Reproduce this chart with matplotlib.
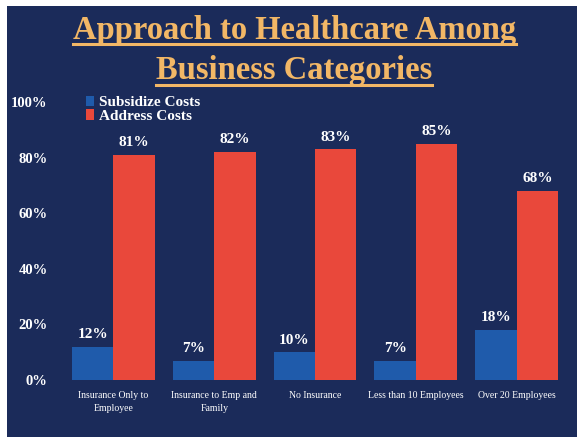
import matplotlib.pyplot as plt
from matplotlib.patches import Rectangle
from matplotlib.lines import Line2D

categories = ["Insurance Only to\nEmployee", "Insurance to Emp and\nFamily",
              "No Insurance", "Less than 10 Employees", "Over 20 Employees"]
subsidize = [12, 7, 10, 7, 18]
address = [81, 82, 83, 85, 68]
y_ticks = [0, 20, 40, 60, 80, 100]

BG = "#1b2b5a"
BLUE = "#1f5bab"
RED = "#e9483b"
GOLD = "#f2b766"
SERIF = ["Liberation Serif", "DejaVu Serif"]

fig = plt.figure(figsize=(5.77, 4.37), dpi=100, facecolor="white")
# navy slide background, leaving a thin white edge top/left like the scan
fig.patches.append(Rectangle((7 / 577, 0), 1, 1 - 6 / 437, transform=fig.transFigure,
                             facecolor=BG, edgecolor="none", zorder=-10))

ax = fig.add_axes([63 / 577, 57 / 437, 504 / 577, 278 / 437])
ax.set_facecolor("none")

x = list(range(len(categories)))
w = 0.41
ax.bar([i - w / 2 for i in x], subsidize, w, color=BLUE, label="Subsidize Costs")
ax.bar([i + w / 2 for i in x], address, w, color=RED, label="Address Costs")

for i in x:
    ax.text(i - w / 2, subsidize[i] + 2, f"{subsidize[i]}%", ha="center", va="bottom",
            color="white", fontsize=11, fontweight="bold", family=SERIF)
    ax.text(i + w / 2, address[i] + 2, f"{address[i]}%", ha="center", va="bottom",
            color="white", fontsize=11, fontweight="bold", family=SERIF)

ax.set_xlim(-0.5, 4.5)
ax.set_ylim(0, 100)
ax.set_yticks(y_ticks)
ax.set_yticklabels([f"{t}%" for t in y_ticks], color="white", fontsize=10.5,
                   fontweight="bold", family=SERIF)
ax.set_xticks(x)
ax.set_xticklabels(categories, color="white", fontsize=7, family=SERIF,
                   linespacing=1.5)
ax.tick_params(length=0)
ax.tick_params(axis="y", pad=11)
ax.tick_params(axis="x", pad=8)
for s in ax.spines.values():
    s.set_visible(False)

leg = ax.legend(loc="upper left", bbox_to_anchor=(0.03, 1.05), frameon=False,
                handlelength=0.55, handleheight=0.7, handletextpad=0.3,
                labelspacing=0.0, borderpad=0,
                prop={"family": SERIF, "weight": "bold", "size": 11})
for t in leg.get_texts():
    t.set_color("white")

# two-line underlined title
titles = [("Approach to Healthcare Among", 30 / 437), ("Business Categories", 71 / 437)]
fig.canvas.draw()
r = fig.canvas.get_renderer()
for txt, ytop in titles:
    t = fig.text(0.51, 1 - ytop, txt, ha="center", va="center", color=GOLD,
                 fontsize=23.5, fontweight="bold", family=SERIF)
    bb = t.get_window_extent(renderer=r).transformed(fig.transFigure.inverted())
    fig.lines.append(Line2D([bb.x0, bb.x1], [bb.y0 + 0.004, bb.y0 + 0.004],
                            transform=fig.transFigure, color=GOLD, lw=2.2))

fig.savefig("out.png", dpi=100, facecolor=fig.get_facecolor())
